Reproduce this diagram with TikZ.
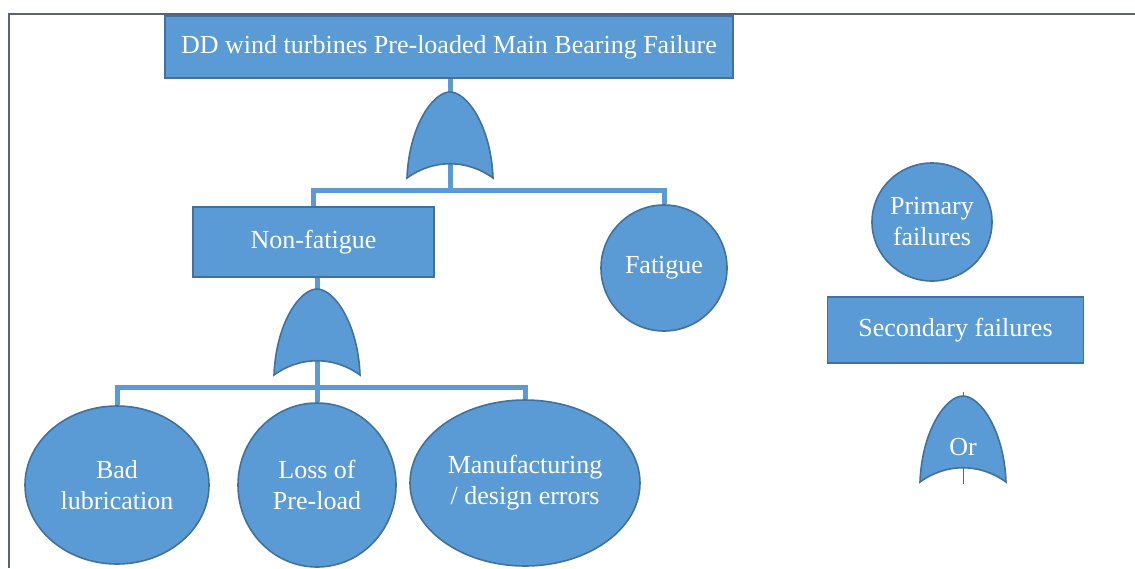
\documentclass[tikz,border=0pt]{standalone}
\usepackage{fontspec}
\setmainfont{Liberation Serif}
\usetikzlibrary{shapes.geometric}
\definecolor{boxfill}{HTML}{5B9BD5}
\definecolor{boxline}{HTML}{41719C}
\definecolor{framecol}{HTML}{5A6274}
\pgfdeclarelayer{canvas}
\pgfdeclarelayer{back}
\pgfsetlayers{canvas,back,main}
\tikzset{
  base/.style={fill=boxfill, draw=boxline, line width=1.6pt, text=white,
    font=\fontsize{26}{31}\selectfont, align=center, inner sep=0pt},
  eventbox/.style={base, rectangle, minimum width=#1},
  basicevent/.style 2 args={base, ellipse, minimum width=#1, minimum height=#2},
  link/.style={draw=boxfill, line width=5pt},
  gatebody/.style={fill=boxfill, draw=boxline, line width=1.6pt},
  orgate/.pic={
    \path[gatebody] (-43,86) .. controls (-41,34) and (-17,0) .. (0,0)
      .. controls (17,0) and (41,34) .. (43,86)
      .. controls (17,67) and (-17,67) .. (-43,86) -- cycle;
    \coordinate (-top) at (0,0);
    \coordinate (-bot) at (0,72);
  }
}
\begin{document}
\begin{tikzpicture}[x=1pt,y=-1pt]
\begin{pgfonlayer}{canvas}
\fill[white] (0,0) rectangle (1135,568);
\end{pgfonlayer}
\useasboundingbox (0,0) rectangle (1135,568);

% frame
\draw[framecol, line width=2.5pt] (1135,14) -- (9,14) -- (9,568);

% top event
\node[eventbox=568, minimum height=62] (top) at (449,47)
  {DD wind turbines Pre-loaded Main Bearing Failure};

% first OR gate
\pic (ga) at (450,92) {orgate};

% intermediate events
\node[eventbox=241, minimum height=70] (nonfat) at (313.5,242) {Non-fatigue};
\node[basicevent={126}{126}] (fatigue) at (664,268) {Fatigue};

% second OR gate
\pic (gb) at (317,289) {orgate};

% basic events
\node[basicevent={184}{158}] (badlub) at (117,485) {Bad\\lubrication};
\node[basicevent={158}{164}] (preload) at (317,485) {Loss of\\Pre-load};
\node[basicevent={230}{166}] (manuf) at (525,483) {Manufacturing\\/ design errors};

% legend
\node[basicevent={120}{118}] (primary) at (932,222) {Primary\\failures};
\node[eventbox=256, minimum height=66] (secondary) at (955.5,330) {Secondary failures};
\pic (gc) at (963,396) {orgate};
\node[text=white, font=\fontsize{26}{31}\selectfont] (orlabel) at (963,447) {Or};
\draw[boxline, line width=1pt] (gc-top) -- ++(0,-4);
\draw[boxline, line width=1pt] (gc-bot) -- ++(0,16);

% junction points below the gates
\coordinate (j1) at (450,190);
\coordinate (j2) at (317,387);

% connectors, kept behind the shapes
\begin{pgfonlayer}{back}
\draw[link] (ga-top |- top.south) -- (ga-top);
\draw[link] (ga-bot) -- (j1);
\draw[link] (nonfat.north) |- (j1) -| (fatigue.north);
\draw[link] (gb-top |- nonfat.south) -- (gb-top);
\draw[link] (gb-bot) -- (j2);
\draw[link] (badlub.north) |- (j2) -| (manuf.north);
\draw[link] (j2) -- (preload.north);
\end{pgfonlayer}
\end{tikzpicture}
\end{document}
